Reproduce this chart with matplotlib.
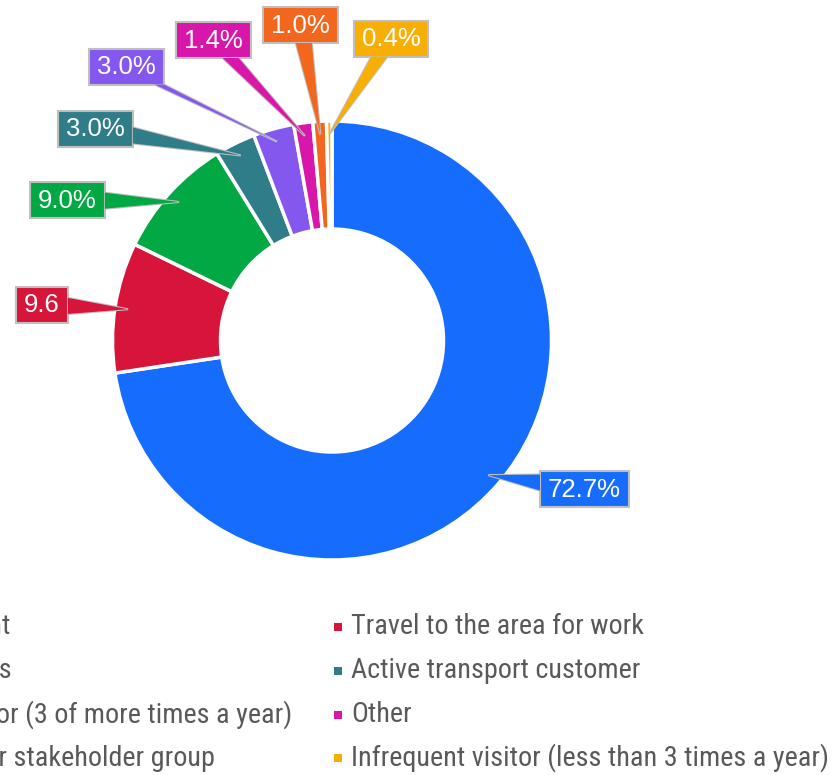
import numpy as np
import matplotlib
matplotlib.use("Agg")
import matplotlib.pyplot as plt
from matplotlib.patches import Rectangle, Polygon
from matplotlib import font_manager as fm
import os

# ---------------- data ----------------
categories = [
    "Local resident",
    "Travel to the area for work",
    "Local business",
    "Active transport customer",
    "Frequent visitor (3 of more times a year)",
    "Other",
    "Member of other stakeholder group",
    "Infrequent visitor (less than 3 times a year)",
]
values = [72.7, 9.6, 9.0, 3.0, 3.0, 1.4, 1.0, 0.4]
value_labels = ["72.7%", "9.6", "9.0%", "3.0%", "3.0%", "1.4%", "1.0%", "0.4%"]
colors = ["#166CFC", "#D7153A", "#02A843", "#2E7D89", "#8457EF",
          "#D816AA", "#F2661E", "#F9AE03"]

# ---------------- layout (pixels, y measured from top) ----------------
W, H = 833, 775
center_px = (332, 340.5)
R_OUT = 219.5
RING = 108
label_box_centers = [(584.5, 489), (42, 304.5), (67.5, 200), (95.5, 128.5),
                     (126.5, 66.5), (213.5, 40), (300.5, 25), (391, 38.5)]
BOX_H = 36
left_col_right_ends = [10, 12, 292, 215]

def Y(y):
    return H - y

fig = plt.figure(figsize=(W / 100, H / 100), dpi=100)
ax = fig.add_axes([0, 0, 1, 1])

ax.pie(values, colors=colors, startangle=90, counterclock=False,
       radius=R_OUT, center=(center_px[0], Y(center_px[1])),
       wedgeprops=dict(width=RING, edgecolor="white", linewidth=2.5))
ax.set_xlim(0, W)
ax.set_ylim(0, H)
ax.set_aspect("auto")
ax.axis("off")

label_font = "Liberation Sans"
fig.canvas.draw()
renderer = fig.canvas.get_renderer()

total = sum(values)
cum = 0.0
for i, v in enumerate(values):
    mid = (cum + v / 2) / total * 2 * np.pi
    cum += v
    r_tip = R_OUT * 0.94
    tip = (center_px[0] + r_tip * np.sin(mid), Y(center_px[1] - r_tip * np.cos(mid)))
    bx, by = label_box_centers[i][0], Y(label_box_centers[i][1])
    t = ax.text(bx, by - 1, value_labels[i], ha="center", va="center",
                color="white", fontsize=18.5, family=label_font, zorder=6)
    ext = t.get_window_extent(renderer)
    bw = ext.width + 16
    hw, hh = bw / 2, BOX_H / 2
    dx, dy = tip[0] - bx, tip[1] - by
    tx = hw / abs(dx) if dx else np.inf
    ty = hh / abs(dy) if dy else np.inf
    half = 8
    if tx < ty:
        ex = bx + np.sign(dx) * hw
        ey = by + dy * tx
        lo, hi = max(ey - half, by - hh), min(ey + half, by + hh)
        base = [(ex, lo), (ex, hi)]
    else:
        ey = by + np.sign(dy) * hh
        ex = bx + dx * ty
        lo, hi = max(ex - half, bx - hw), min(ex + half, bx + hw)
        base = [(lo, ey), (hi, ey)]
    tri = [base[0], tip, base[1]]
    ax.add_patch(Polygon(tri, closed=True, facecolor=colors[i],
                         edgecolor="#BFBFBF", linewidth=1.5, zorder=3))
    ax.add_patch(Rectangle((bx - hw, by - hh), bw, BOX_H, facecolor=colors[i],
                           edgecolor="#BFBFBF", linewidth=1.5, zorder=4))
    ax.add_patch(Polygon(tri, closed=True, facecolor=colors[i],
                         edgecolor="none", linewidth=0, zorder=5))

# ---------------- legend ----------------
leg_prop = None
for fam in ["Liberation Sans Narrow", "Roboto Condensed", "Open Sans Condensed",
            "Noto Sans", "DejaVu Sans", "Roboto", "Liberation Sans"]:
    fp = fm.FontProperties(family=fam, stretch="condensed")
    try:
        path = fm.findfont(fp, fallback_to_default=False)
    except Exception:
        continue
    base_name = os.path.basename(path).lower()
    if "condensed" in base_name or "narrow" in base_name:
        leg_prop = fp
        break
if leg_prop is None:
    leg_prop = fm.FontProperties(family="Roboto")

probe = ax.text(0, 0, categories[7], fontsize=10, fontproperties=leg_prop)
pw = probe.get_window_extent(renderer).width
probe.remove()
leg_fs = 10 * 473 / pw
leg_prop.set_size(leg_fs)

row_y = [627, 671, 715, 758]
for i, name in enumerate(categories):
    row, col = divmod(i, 2)
    if col == 1:
        tx = 351
        ax.add_patch(Rectangle((334, Y(row_y[row]) - 4), 8, 8,
                               facecolor=colors[i], edgecolor="none"))
        ax.text(tx, Y(row_y[row]), name, ha="left", va="center",
                fontproperties=leg_prop, color="#595959")
    else:
        ax.text(left_col_right_ends[row], Y(row_y[row]), name, ha="right",
                va="center", fontproperties=leg_prop, color="#595959")

fig.savefig("out.png", dpi=100)
